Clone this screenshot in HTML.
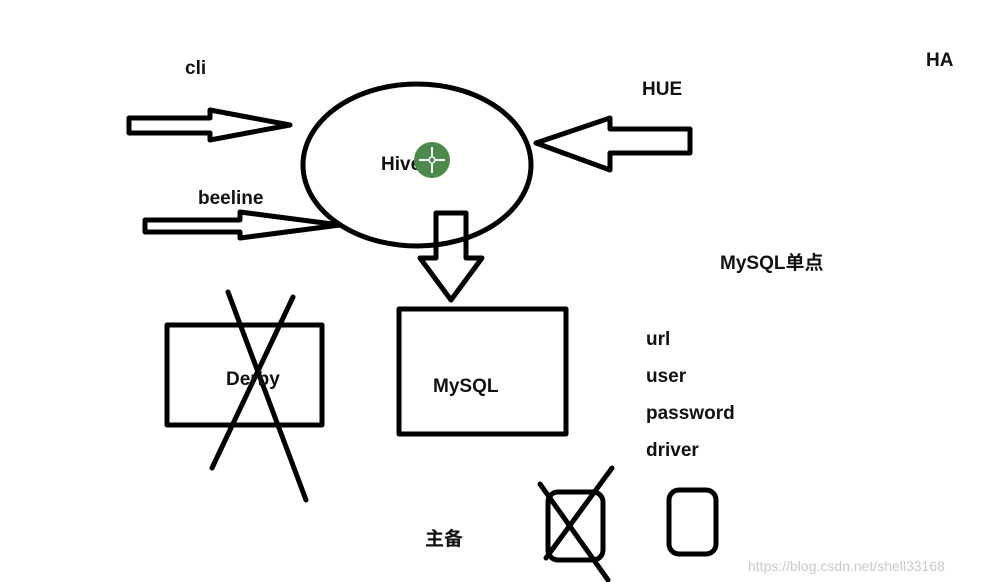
<!DOCTYPE html>
<html><head><meta charset="utf-8"><style>
html,body{margin:0;padding:0;background:#fff;}
svg{display:block;}
text{font-family:"Liberation Sans","Noto Sans CJK SC",sans-serif;font-weight:bold;fill:#111;}
</style></head><body>
<svg width="982" height="582" viewBox="0 0 982 582" xmlns="http://www.w3.org/2000/svg">
<g fill="none" stroke="#000" stroke-width="5" stroke-linejoin="round" stroke-linecap="round">
<ellipse cx="417" cy="165" rx="114" ry="81"/>
<path d="M129 118 L210 118 L210 110 L290 125 L210 140 L210 133 L129 133 Z"/>
<path d="M145 220 L240 220 L240 212 L340 225 L240 238 L240 232 L145 232 Z"/>
<path d="M690 129 L610 129 L610 118 L536 143 L610 170 L610 153 L690 153 Z"/>
<path d="M436 213 L466 213 L466 258 L482 258 L451 300 L420 258 L436 258 Z"/>
<rect x="167" y="325" width="155" height="100"/>
<line x1="228" y1="292" x2="306" y2="500"/>
<line x1="293" y1="297" x2="212" y2="468"/>
<rect x="399" y="309" width="167" height="125"/>
<rect x="548" y="492" width="55" height="68" rx="10"/>
<line x1="540" y1="484" x2="608" y2="580"/>
<line x1="612" y1="468" x2="546" y2="558"/>
<rect x="669" y="490" width="47" height="64" rx="10"/>
</g>
<text x="185" y="74" font-size="19">cli</text>
<text x="642" y="95" font-size="19">HUE</text>
<text x="926" y="66" font-size="19">HA</text>
<text x="198" y="204" font-size="19">beeline</text>
<text x="381" y="170" font-size="19">Hive</text>
<circle cx="432" cy="160" r="18" fill="#4a8a4a"/>
<g stroke="#fff" stroke-width="2"><line x1="432" y1="147" x2="432" y2="173"/><line x1="419" y1="160" x2="445" y2="160"/></g>
<circle cx="432" cy="160" r="3" fill="#4a8a4a" stroke="#fff" stroke-width="1.5"/>
<text x="720" y="269" font-size="19">MySQL单点</text>
<text x="646" y="345" font-size="19">url</text>
<text x="646" y="382" font-size="19">user</text>
<text x="646" y="419" font-size="19">password</text>
<text x="646" y="456" font-size="19">driver</text>
<text x="226" y="385" font-size="19">Derby</text>
<text x="433" y="392" font-size="19">MySQL</text>
<text x="425" y="545" font-size="19">主备</text>
<text x="748" y="571" font-size="14" style="font-weight:normal;fill:#c8c8c8">https://blog.csdn.net/shell33168</text>
</svg>
</body></html>
